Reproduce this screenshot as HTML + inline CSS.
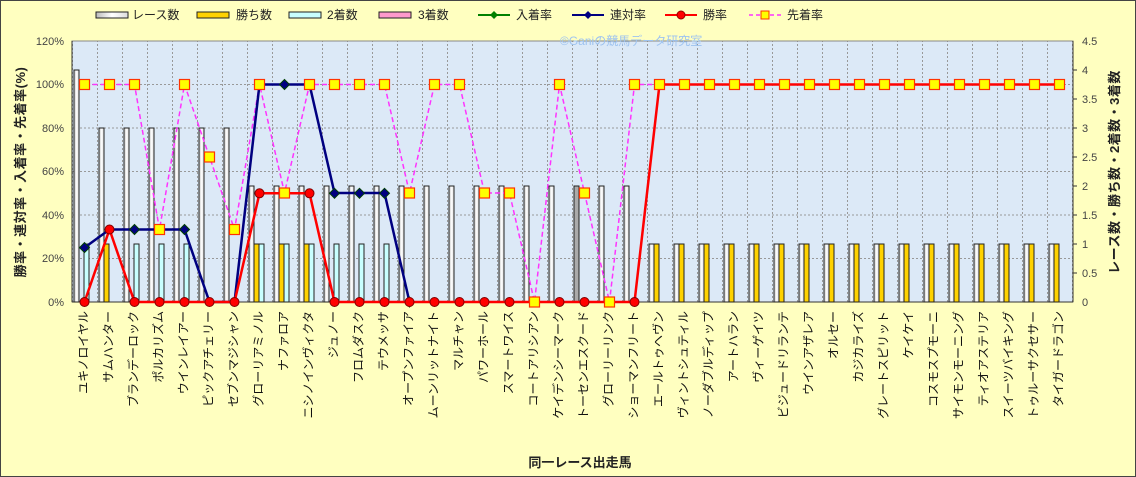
<!DOCTYPE html>
<html><head><meta charset="utf-8"><style>
html,body{margin:0;padding:0;background:#FFFFC0;}
svg{display:block;font-family:"Liberation Sans","Noto Sans CJK JP",sans-serif;}
</style></head><body>
<svg width="1136" height="477" viewBox="0 0 1136 477" xmlns="http://www.w3.org/2000/svg">
<defs>
<linearGradient id="rg" x1="0" x2="1"><stop offset="0" stop-color="#bbb"/><stop offset="0.5" stop-color="#fff"/><stop offset="1" stop-color="#ddd"/></linearGradient>
<pattern id="vg" width="25" height="300" patternUnits="userSpaceOnUse" x="72" y="0"><line x1="0.5" y1="0" x2="0.5" y2="300" stroke="#999" stroke-dasharray="2,2" stroke-width="1"/></pattern>
</defs>
<rect x="0.5" y="0.5" width="1135" height="476" fill="#FFFFC0" stroke="#444"/>
<g font-size="12" fill="#222">
<rect x="96" y="12" width="32" height="6" fill="url(#rg)" stroke="#222"/><text x="132" y="19">レース数</text>
<rect x="197" y="12" width="32" height="6" fill="#FFD200" stroke="#222"/><text x="236" y="19">勝ち数</text>
<rect x="289" y="12" width="32" height="6" fill="#C8FFFF" stroke="#222"/><text x="327" y="19">2着数</text>
<rect x="379" y="12" width="32" height="6" fill="#FF99CC" stroke="#222"/><text x="418" y="19">3着数</text>
<line x1="478" y1="15" x2="510" y2="15" stroke="#008000" stroke-width="2"/><path d="M494 11 L498 15 L494 19 L490 15Z" fill="#008000"/><text x="516" y="19">入着率</text>
<line x1="572" y1="15" x2="604" y2="15" stroke="#000080" stroke-width="2"/><path d="M588 11 L592 15 L588 19 L584 15Z" fill="#000080"/><text x="610" y="19">連対率</text>
<line x1="665" y1="15" x2="697" y2="15" stroke="#FF0000" stroke-width="2"/><circle cx="681" cy="15" r="4" fill="#f00" stroke="#900"/><text x="703" y="19">勝率</text>
<line x1="749" y1="15" x2="781" y2="15" stroke="#FF33FF" stroke-width="1.5" stroke-dasharray="4,3"/><rect x="761" y="11" width="8" height="8" fill="#FFFF00" stroke="#FF3300"/><text x="787" y="19">先着率</text>
</g>
<rect x="72" y="41" width="1001" height="261" fill="#DCE9F7"/>
<rect x="72" y="41" width="1001" height="261" fill="url(#vg)"/>
<g stroke="#999" stroke-dasharray="2,2">
<line x1="72" y1="84.5" x2="1073" y2="84.5"/><line x1="72" y1="128" x2="1073" y2="128"/><line x1="72" y1="171.5" x2="1073" y2="171.5"/><line x1="72" y1="215" x2="1073" y2="215"/><line x1="72" y1="258.5" x2="1073" y2="258.5"/>
</g>
<rect x="72" y="41" width="1001" height="261" fill="none" stroke="#888"/>
<line x1="72" y1="41" x2="72" y2="302" stroke="#333"/><line x1="1073" y1="41" x2="1073" y2="302" stroke="#333"/><line x1="72" y1="302" x2="1073" y2="302" stroke="#333"/>
<text x="560" y="45" font-size="12" fill="#9EC3F0">©Ganiの競馬データ研究室</text>
<g font-size="11" fill="#444" text-anchor="end">
<text x="64" y="45">120%</text><text x="64" y="88">100%</text><text x="64" y="132">80%</text><text x="64" y="175">60%</text><text x="64" y="219">40%</text><text x="64" y="262">20%</text><text x="64" y="306">0%</text>
</g>
<g font-size="11" fill="#444">
<text x="1082" y="45">4.5</text><text x="1082" y="74">4</text><text x="1082" y="103">3.5</text><text x="1082" y="132">3</text><text x="1082" y="161">2.5</text><text x="1082" y="190">2</text><text x="1082" y="219">1.5</text><text x="1082" y="248">1</text><text x="1082" y="277">0.5</text><text x="1082" y="306">0</text>
</g>
<g stroke="#333"><line x1="1073" y1="70" x2="1077" y2="70"/><line x1="1073" y1="99" x2="1077" y2="99"/><line x1="1073" y1="128" x2="1077" y2="128"/><line x1="1073" y1="157" x2="1077" y2="157"/><line x1="1073" y1="186" x2="1077" y2="186"/><line x1="1073" y1="215" x2="1077" y2="215"/><line x1="1073" y1="244" x2="1077" y2="244"/><line x1="1073" y1="273" x2="1077" y2="273"/></g>
<text transform="translate(25,172) rotate(-90)" font-size="13" font-weight="bold" fill="#222" text-anchor="middle" letter-spacing="0.5">勝率・連対率・入着率・先着率(%)</text>
<text transform="translate(1119,172) rotate(-90)" font-size="13" font-weight="bold" fill="#222" text-anchor="middle" letter-spacing="0.5">レース数・勝ち数・2着数・3着数</text>
<text x="580" y="467" font-size="13" font-weight="bold" fill="#222" text-anchor="middle">同一レース出走馬</text>
<g fill="url(#rg)" stroke="#222">
<rect x="74" y="70" width="5" height="232"/>
<rect x="99" y="128" width="5" height="174"/><rect x="124" y="128" width="5" height="174"/><rect x="149" y="128" width="5" height="174"/><rect x="174" y="128" width="5" height="174"/><rect x="199" y="128" width="5" height="174"/><rect x="224" y="128" width="5" height="174"/>
<rect x="249" y="186" width="5" height="116"/><rect x="274" y="186" width="5" height="116"/><rect x="299" y="186" width="5" height="116"/><rect x="324" y="186" width="5" height="116"/><rect x="349" y="186" width="5" height="116"/><rect x="374" y="186" width="5" height="116"/><rect x="399" y="186" width="5" height="116"/><rect x="424" y="186" width="5" height="116"/><rect x="449" y="186" width="5" height="116"/><rect x="474" y="186" width="5" height="116"/><rect x="499" y="186" width="5" height="116"/><rect x="524" y="186" width="5" height="116"/><rect x="549" y="186" width="5" height="116"/><rect x="574" y="186" width="5" height="116" fill="#aaa"/><rect x="599" y="186" width="5" height="116"/><rect x="624" y="186" width="5" height="116"/>
<rect x="649" y="244" width="5" height="58"/><rect x="674" y="244" width="5" height="58"/><rect x="699" y="244" width="5" height="58"/><rect x="724" y="244" width="5" height="58"/><rect x="749" y="244" width="5" height="58"/><rect x="774" y="244" width="5" height="58"/><rect x="799" y="244" width="5" height="58"/><rect x="824" y="244" width="5" height="58"/><rect x="849" y="244" width="5" height="58"/><rect x="874" y="244" width="5" height="58"/><rect x="899" y="244" width="5" height="58"/><rect x="924" y="244" width="5" height="58"/><rect x="949" y="244" width="5" height="58"/><rect x="974" y="244" width="5" height="58"/><rect x="999" y="244" width="5" height="58"/><rect x="1024" y="244" width="5" height="58"/><rect x="1049" y="244" width="5" height="58"/>
</g>
<g fill="#FFD200" stroke="#222">
<rect x="104" y="244" width="5" height="58"/><rect x="254" y="244" width="5" height="58"/><rect x="279" y="244" width="5" height="58"/><rect x="304" y="244" width="5" height="58"/>
<rect x="654" y="244" width="5" height="58"/><rect x="679" y="244" width="5" height="58"/><rect x="704" y="244" width="5" height="58"/><rect x="729" y="244" width="5" height="58"/><rect x="754" y="244" width="5" height="58"/><rect x="779" y="244" width="5" height="58"/><rect x="804" y="244" width="5" height="58"/><rect x="829" y="244" width="5" height="58"/><rect x="854" y="244" width="5" height="58"/><rect x="879" y="244" width="5" height="58"/><rect x="904" y="244" width="5" height="58"/><rect x="929" y="244" width="5" height="58"/><rect x="954" y="244" width="5" height="58"/><rect x="979" y="244" width="5" height="58"/><rect x="1004" y="244" width="5" height="58"/><rect x="1029" y="244" width="5" height="58"/><rect x="1054" y="244" width="5" height="58"/>
</g>
<g fill="#C8FFFF" stroke="#222">
<rect x="84" y="244" width="5" height="58"/><rect x="134" y="244" width="5" height="58"/><rect x="159" y="244" width="5" height="58"/><rect x="184" y="244" width="5" height="58"/><rect x="259" y="244" width="5" height="58"/><rect x="284" y="244" width="5" height="58"/><rect x="309" y="244" width="5" height="58"/><rect x="334" y="244" width="5" height="58"/><rect x="359" y="244" width="5" height="58"/><rect x="384" y="244" width="5" height="58"/>
</g>
<polyline fill="none" stroke="#FF33FF" stroke-width="1.5" stroke-dasharray="5,3" points="84.5,84.5 109.5,84.5 134.5,84.5 159.5,229.5 184.5,84.5 209.5,157 234.5,229.5 259.5,84.5 284.5,193 309.5,84.5 334.5,84.5 359.5,84.5 384.5,84.5 409.5,193 434.5,84.5 459.5,84.5 484.5,193 509.5,193 534.5,302 559.5,84.5 584.5,193 609.5,302 634.5,84.5 659.5,84.5 1059.5,84.5"/>
<polyline fill="none" stroke="#000080" stroke-width="2.5" points="84.5,247.6 109.5,229.5 134.5,229.5 159.5,229.5 184.5,229.5 209.5,302 234.5,302 259.5,84.5 284.5,84.5 309.5,84.5 334.5,193 359.5,193 384.5,193 409.5,302"/>
<g fill="#000080" stroke="#004000">
<path d="M84.5 242.6l5 5-5 5-5-5z"/><path d="M134.5 224.5l5 5-5 5-5-5z"/><path d="M184.5 224.5l5 5-5 5-5-5z"/><path d="M284.5 79.5l5 5-5 5-5-5z"/><path d="M334.5 188.3l5 5-5 5-5-5z"/><path d="M359.5 188.3l5 5-5 5-5-5z"/><path d="M384.5 188.3l5 5-5 5-5-5z"/><path d="M409.5 297l5 5-5 5-5-5z"/>
</g>
<polyline fill="none" stroke="#FF0000" stroke-width="2.5" points="84.5,302 109.5,229.5 134.5,302 234.5,302 259.5,193.3 309.5,193.3 334.5,302 634.5,302 659.5,84.5 1059.5,84.5"/>
<g fill="#FF0000" stroke="#800000">
<circle cx="84.5" cy="302" r="4.5"/><circle cx="109.5" cy="229.5" r="4.5"/><circle cx="134.5" cy="302" r="4.5"/><circle cx="159.5" cy="302" r="4.5"/><circle cx="184.5" cy="302" r="4.5"/><circle cx="209.5" cy="302" r="4.5"/><circle cx="234.5" cy="302" r="4.5"/><circle cx="259.5" cy="193.3" r="4.5"/><circle cx="309.5" cy="193.3" r="4.5"/><circle cx="334.5" cy="302" r="4.5"/><circle cx="359.5" cy="302" r="4.5"/><circle cx="384.5" cy="302" r="4.5"/><circle cx="409.5" cy="302" r="4.5"/><circle cx="434.5" cy="302" r="4.5"/><circle cx="459.5" cy="302" r="4.5"/><circle cx="484.5" cy="302" r="4.5"/><circle cx="509.5" cy="302" r="4.5"/><circle cx="559.5" cy="302" r="4.5"/><circle cx="584.5" cy="302" r="4.5"/><circle cx="634.5" cy="302" r="4.5"/>
</g>
<g fill="#FFFF00" stroke="#FF3300" stroke-width="1.2">
<rect x="79.5" y="79.5" width="10" height="10"/><rect x="104.5" y="79.5" width="10" height="10"/><rect x="129.5" y="79.5" width="10" height="10"/><rect x="154.5" y="224.5" width="10" height="10"/><rect x="179.5" y="79.5" width="10" height="10"/><rect x="204.5" y="152" width="10" height="10"/><rect x="229.5" y="224.5" width="10" height="10"/><rect x="254.5" y="79.5" width="10" height="10"/><rect x="279.5" y="188" width="10" height="10"/><rect x="304.5" y="79.5" width="10" height="10"/><rect x="329.5" y="79.5" width="10" height="10"/><rect x="354.5" y="79.5" width="10" height="10"/><rect x="379.5" y="79.5" width="10" height="10"/><rect x="404.5" y="188" width="10" height="10"/><rect x="429.5" y="79.5" width="10" height="10"/><rect x="454.5" y="79.5" width="10" height="10"/><rect x="479.5" y="188" width="10" height="10"/><rect x="504.5" y="188" width="10" height="10"/><rect x="529.5" y="297" width="10" height="10"/><rect x="554.5" y="79.5" width="10" height="10"/><rect x="579.5" y="188" width="10" height="10"/><rect x="604.5" y="297" width="10" height="10"/><rect x="629.5" y="79.5" width="10" height="10"/>
<rect x="654.5" y="79.5" width="10" height="10"/><rect x="679.5" y="79.5" width="10" height="10"/><rect x="704.5" y="79.5" width="10" height="10"/><rect x="729.5" y="79.5" width="10" height="10"/><rect x="754.5" y="79.5" width="10" height="10"/><rect x="779.5" y="79.5" width="10" height="10"/><rect x="804.5" y="79.5" width="10" height="10"/><rect x="829.5" y="79.5" width="10" height="10"/><rect x="854.5" y="79.5" width="10" height="10"/><rect x="879.5" y="79.5" width="10" height="10"/><rect x="904.5" y="79.5" width="10" height="10"/><rect x="929.5" y="79.5" width="10" height="10"/><rect x="954.5" y="79.5" width="10" height="10"/><rect x="979.5" y="79.5" width="10" height="10"/><rect x="1004.5" y="79.5" width="10" height="10"/><rect x="1029.5" y="79.5" width="10" height="10"/><rect x="1054.5" y="79.5" width="10" height="10"/>
</g>
<g font-size="12" fill="#111" dominant-baseline="middle" text-anchor="end">
<text transform="translate(84.5,311) rotate(-90)">ユキノロイヤル</text>
<text transform="translate(109.5,311) rotate(-90)">サムハンター</text>
<text transform="translate(134.5,311) rotate(-90)">ブランデーロック</text>
<text transform="translate(159.5,311) rotate(-90)">ポルカリズム</text>
<text transform="translate(184.5,311) rotate(-90)">ウインレイアー</text>
<text transform="translate(209.5,311) rotate(-90)">ピックアチェリー</text>
<text transform="translate(234.5,311) rotate(-90)">セブンマジシャン</text>
<text transform="translate(259.5,311) rotate(-90)">グローリアミノル</text>
<text transform="translate(284.5,311) rotate(-90)">ナファロア</text>
<text transform="translate(309.5,311) rotate(-90)">ニシノインヴィクタ</text>
<text transform="translate(334.5,311) rotate(-90)">ジュノー</text>
<text transform="translate(359.5,311) rotate(-90)">フロムダスク</text>
<text transform="translate(384.5,311) rotate(-90)">テウメッサ</text>
<text transform="translate(409.5,311) rotate(-90)">オープンファイア</text>
<text transform="translate(434.5,311) rotate(-90)">ムーンリットナイト</text>
<text transform="translate(459.5,311) rotate(-90)">マルチャン</text>
<text transform="translate(484.5,311) rotate(-90)">パワーホール</text>
<text transform="translate(509.5,311) rotate(-90)">スマートワイス</text>
<text transform="translate(534.5,311) rotate(-90)">コートアリシアン</text>
<text transform="translate(559.5,311) rotate(-90)">ケイデンシーマーク</text>
<text transform="translate(584.5,311) rotate(-90)">トーセンエスクード</text>
<text transform="translate(609.5,311) rotate(-90)">グローリーリンク</text>
<text transform="translate(634.5,311) rotate(-90)">ショーマンフリート</text>
<text transform="translate(659.5,311) rotate(-90)">エールトゥヘヴン</text>
<text transform="translate(684.5,311) rotate(-90)">ヴィントシュティル</text>
<text transform="translate(709.5,311) rotate(-90)">ノーダブルディップ</text>
<text transform="translate(734.5,311) rotate(-90)">アートハラン</text>
<text transform="translate(759.5,311) rotate(-90)">ヴィーゲイツ</text>
<text transform="translate(784.5,311) rotate(-90)">ビジュードリランテ</text>
<text transform="translate(809.5,311) rotate(-90)">ウインアザレア</text>
<text transform="translate(834.5,311) rotate(-90)">オルセー</text>
<text transform="translate(859.5,311) rotate(-90)">カジカライズ</text>
<text transform="translate(884.5,311) rotate(-90)">グレートスピリット</text>
<text transform="translate(909.5,311) rotate(-90)">ケイケイ</text>
<text transform="translate(934.5,311) rotate(-90)">コスモスプモーニ</text>
<text transform="translate(959.5,311) rotate(-90)">サイモンモーニング</text>
<text transform="translate(984.5,311) rotate(-90)">ティオアステリア</text>
<text transform="translate(1009.5,311) rotate(-90)">スイーツバイキング</text>
<text transform="translate(1034.5,311) rotate(-90)">トゥルーサクセサー</text>
<text transform="translate(1059.5,311) rotate(-90)">タイガードラゴン</text>
</g>
</svg>
</body></html>
